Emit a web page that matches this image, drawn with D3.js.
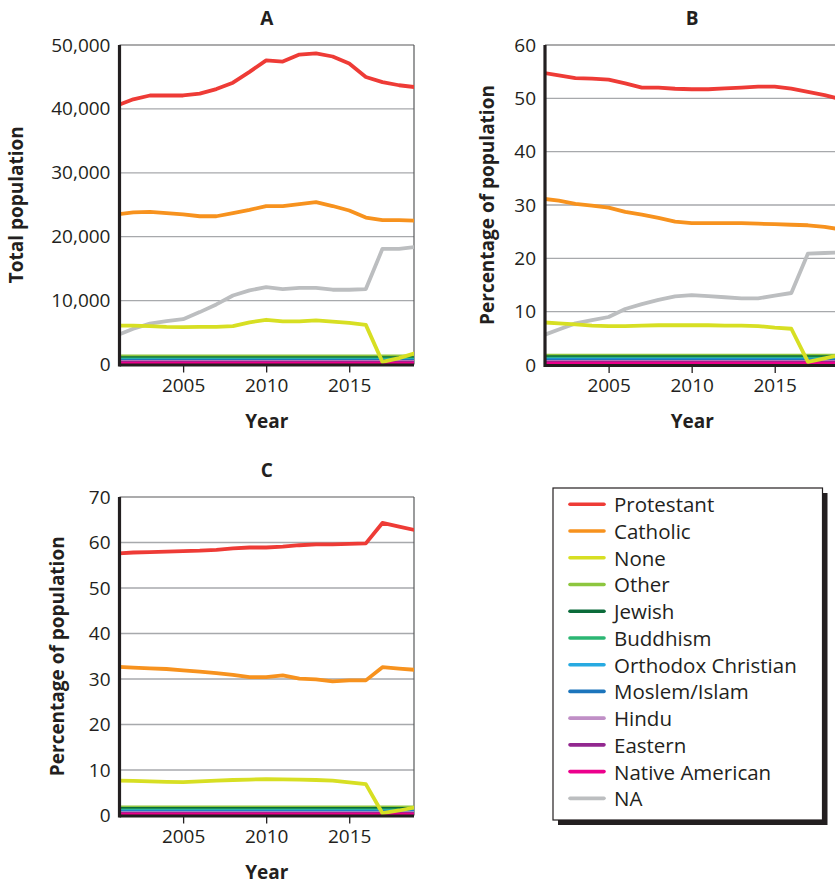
<!DOCTYPE html>
<html><head><meta charset="utf-8">
<script src="https://cdn.jsdelivr.net/npm/d3@7"></script>
<style>
body{margin:0;background:#fff;}
svg text{font-family:'Open Sans',sans-serif;fill:#231f20;}
</style>
</head><body>
<svg id="chart" width="835" height="883"></svg>
<script>
// ---------- DATA ----------
const years = [2001,2002,2003,2004,2005,2006,2007,2008,2009,2010,2011,2012,2013,2014,2015,2016,2017,2018,2019];
const religions = ["Protestant","Catholic","None","Other","Jewish","Buddhism","Orthodox Christian","Moslem/Islam","Hindu","Eastern","Native American","NA"];
const religionColors = ["#ee3b36","#f7921e","#d7df23","#8dc63f","#0b6b3a","#2bb673","#27aae1","#1c75bc","#c08fc6","#92278f","#ec008c","#bcbec0"];
const xTicks = [2005,2010,2015];

// Panel A: total population
const aProtestant = [40500,41500,42100,42100,42100,42400,43100,44100,45800,47600,47400,48500,48700,48200,47100,45000,44200,43700,43400];
const aCatholic   = [23500,23800,23900,23700,23500,23200,23200,23700,24200,24800,24800,25100,25400,24800,24100,23000,22600,22600,22500];
const aNone       = [6070,6070,6000,5900,5860,5880,5900,6000,6600,7000,6750,6750,6900,6700,6500,6200,400,1000,1800];
const aOther      = [1250,1250,1250,1250,1250,1250,1250,1250,1250,1250,1250,1250,1250,1250,1250,1250,1250,1250,1250];
const aJewish     = [1000,1000,1000,1000,1000,1000,1000,1000,1000,1000,1000,1000,1000,1000,1000,1000,1000,1000,1000];
const aBuddhism   = [800,800,800,800,800,800,800,800,800,800,800,800,800,800,800,800,800,800,800];
const aOrthodox   = [650,650,650,650,650,650,650,650,650,650,650,650,650,650,650,650,650,650,650];
const aMoslem     = [550,550,550,550,550,550,550,550,550,550,550,550,550,550,550,550,550,550,550];
const aHindu      = [400,400,400,400,400,400,400,400,400,400,400,400,400,400,400,400,400,400,400];
const aEastern    = [300,300,300,300,300,300,300,300,300,300,300,300,300,300,300,300,300,300,300];
const aNative     = [150,150,150,150,150,150,150,150,150,150,150,150,150,150,150,150,150,150,150];
const aNA         = [4550,5600,6400,6800,7100,8200,9400,10800,11600,12100,11800,12000,12000,11700,11700,11800,18100,18100,18400];
const aTicks = [0,10000,20000,30000,40000,50000];

// Panel B: percentage of population
const bProtestant = [54.8,54.3,53.8,53.7,53.5,52.8,52.0,52.0,51.8,51.7,51.7,51.85,52.0,52.2,52.2,51.8,51.2,50.6,49.8];
const bCatholic   = [31.2,30.8,30.2,29.9,29.5,28.7,28.2,27.6,26.9,26.6,26.6,26.6,26.6,26.5,26.4,26.3,26.2,25.9,25.4];
const bNone       = [8.0,7.8,7.6,7.4,7.3,7.3,7.4,7.45,7.45,7.45,7.45,7.4,7.4,7.3,7.0,6.8,0.6,1.25,1.9];
const bOther      = [1.75,1.75,1.75,1.75,1.75,1.75,1.75,1.75,1.75,1.75,1.75,1.75,1.75,1.75,1.75,1.75,1.75,1.75,1.75];
const bJewish     = [1.45,1.45,1.45,1.45,1.45,1.45,1.45,1.45,1.45,1.45,1.45,1.45,1.45,1.45,1.45,1.45,1.45,1.45,1.45];
const bBuddhism   = [1.2,1.2,1.2,1.2,1.2,1.2,1.2,1.2,1.2,1.2,1.2,1.2,1.2,1.2,1.2,1.2,1.2,1.2,1.2];
const bOrthodox   = [1.0,1.0,1.0,1.0,1.0,1.0,1.0,1.0,1.0,1.0,1.0,1.0,1.0,1.0,1.0,1.0,1.0,1.0,1.0];
const bMoslem     = [0.85,0.85,0.85,0.85,0.85,0.85,0.85,0.85,0.85,0.85,0.85,0.85,0.85,0.85,0.85,0.85,0.85,0.85,0.85];
const bHindu      = [0.6,0.6,0.6,0.6,0.6,0.6,0.6,0.6,0.6,0.6,0.6,0.6,0.6,0.6,0.6,0.6,0.6,0.6,0.6];
const bEastern    = [0.45,0.45,0.45,0.45,0.45,0.45,0.45,0.45,0.45,0.45,0.45,0.45,0.45,0.45,0.45,0.45,0.45,0.45,0.45];
const bNative     = [0.25,0.25,0.25,0.25,0.25,0.25,0.25,0.25,0.25,0.25,0.25,0.25,0.25,0.25,0.25,0.25,0.25,0.25,0.25];
const bNA         = [5.5,6.65,7.8,8.4,9.0,10.5,11.4,12.2,12.85,13.1,12.9,12.7,12.5,12.5,13.0,13.5,20.9,21.0,21.1];
const bTicks = [0,10,20,30,40,50,60];

// Panel C: percentage of population (NA excluded)
const cProtestant = [57.6,57.8,57.9,58.0,58.1,58.2,58.4,58.7,58.9,58.9,59.1,59.4,59.6,59.6,59.7,59.8,64.3,63.5,62.7];
const cCatholic   = [32.7,32.5,32.35,32.2,31.9,31.6,31.3,30.9,30.4,30.4,30.8,30.1,29.9,29.5,29.7,29.7,32.6,32.3,32.0];
const cNone       = [7.65,7.6,7.5,7.4,7.35,7.5,7.65,7.8,7.9,8.0,7.95,7.9,7.8,7.65,7.3,6.9,0.5,1.1,1.8];
const cOther      = [1.8,1.8,1.8,1.8,1.8,1.8,1.8,1.8,1.8,1.8,1.8,1.8,1.8,1.8,1.8,1.8,1.8,1.8,1.8];
const cJewish     = [1.45,1.45,1.45,1.45,1.45,1.45,1.45,1.45,1.45,1.45,1.45,1.45,1.45,1.45,1.45,1.45,1.45,1.45,1.45];
const cBuddhism   = [1.1,1.1,1.1,1.1,1.1,1.1,1.1,1.1,1.1,1.1,1.1,1.1,1.1,1.1,1.1,1.1,1.1,1.1,1.1];
const cOrthodox   = [0.9,0.9,0.9,0.9,0.9,0.9,0.9,0.9,0.9,0.9,0.9,0.9,0.9,0.9,0.9,0.9,0.9,0.9,0.9];
const cMoslem     = [0.75,0.75,0.75,0.75,0.75,0.75,0.75,0.75,0.75,0.75,0.75,0.75,0.75,0.75,0.75,0.75,0.75,0.75,0.75];
const cHindu      = [0.5,0.5,0.5,0.5,0.5,0.5,0.5,0.5,0.5,0.5,0.5,0.5,0.5,0.5,0.5,0.5,0.5,0.5,0.5];
const cEastern    = [0.35,0.35,0.35,0.35,0.35,0.35,0.35,0.35,0.35,0.35,0.35,0.35,0.35,0.35,0.35,0.35,0.35,0.35,0.35];
const cNative     = [0.2,0.2,0.2,0.2,0.2,0.2,0.2,0.2,0.2,0.2,0.2,0.2,0.2,0.2,0.2,0.2,0.2,0.2,0.2];
const cTicks = [0,10,20,30,40,50,60,70];

// ---------- LAYOUT ----------
const panels = [
  {title:"A", yLabel:"Total population", ticks:aTicks, fmt:d3.format(","),
   left:119.5, right:414, top:45, bottom:364.5, labelX:16,
   series:[aProtestant,aCatholic,aNone,aOther,aJewish,aBuddhism,aOrthodox,aMoslem,aHindu,aEastern,aNative,aNA]},
  {title:"B", yLabel:"Percentage of population", ticks:bTicks, fmt:d3.format("d"),
   left:545, right:839.5, top:45, bottom:365, labelX:487,
   series:[bProtestant,bCatholic,bNone,bOther,bJewish,bBuddhism,bOrthodox,bMoslem,bHindu,bEastern,bNative,bNA]},
  {title:"C", yLabel:"Percentage of population", ticks:cTicks, fmt:d3.format("d"),
   left:119.5, right:414, top:497, bottom:815.5, labelX:57,
   series:[cProtestant,cCatholic,cNone,cOther,cJewish,cBuddhism,cOrthodox,cMoslem,cHindu,cEastern,cNative,null]}
];
// small series first, then the main ones on top
const drawOrder = [3,4,5,6,7,8,9,10,11,1,0,2];

const svg = d3.select("#chart");
const ink = "#231f20";

panels.forEach((p, pi) => {
  const x = d3.scaleLinear().domain([2001.17, 2018.9]).range([p.left, p.right]);
  const y = d3.scaleLinear().domain([0, d3.max(p.ticks)]).range([p.bottom, p.top]);
  const g = svg.append("g");
  const cx = (p.left + p.right) / 2;

  const clipId = "clip" + pi;
  svg.append("clipPath").attr("id", clipId).append("rect")
    .attr("x", p.left).attr("y", p.top - 5).attr("width", p.right - p.left).attr("height", p.bottom - p.top + 5);

  // gridlines
  g.append("g").selectAll("line").data(p.ticks.slice(1, -1)).join("line")
    .attr("x1", p.left).attr("x2", p.right)
    .attr("y1", d => y(d)).attr("y2", d => y(d))
    .attr("stroke", "#a7a9ac").attr("stroke-width", 1.3);

  // frame top & right
  g.append("line").attr("x1", p.left).attr("x2", p.right).attr("y1", p.top).attr("y2", p.top)
    .attr("stroke", "#58595b").attr("stroke-width", 1.2);
  g.append("line").attr("x1", p.right).attr("x2", p.right).attr("y1", p.top).attr("y2", p.bottom)
    .attr("stroke", "#58595b").attr("stroke-width", 1.2);

  // lines
  const line = d3.line().x((d, i) => x(years[i])).y(d => y(d));
  const lg = g.append("g").attr("clip-path", `url(#${clipId})`);
  drawOrder.forEach(si => {
    const s = p.series[si];
    if (!s) return;
    lg.append("path").datum(s).attr("d", line)
      .attr("fill", "none").attr("stroke", religionColors[si])
      .attr("stroke-width", 3.8).attr("stroke-linejoin", "round");
  });

  // x axis
  const xAxis = g.append("g").attr("transform", `translate(0,${p.bottom})`)
    .call(d3.axisBottom(x).tickValues(xTicks).tickSize(8).tickPadding(6).tickFormat(d3.format("d")));
  xAxis.select(".domain").remove();
  xAxis.selectAll(".tick line").attr("stroke", ink).attr("stroke-width", 1.3).attr("y1", 1);
  xAxis.selectAll(".tick text").attr("font-size", 19).attr("fill", ink).attr("font-family", "'Open Sans',sans-serif").attr("dy", "0.71em").attr("y", 14);

  // y axis labels
  const yAxis = g.append("g").attr("transform", `translate(${p.left},0)`)
    .call(d3.axisLeft(y).tickValues(p.ticks).tickSize(0).tickPadding(9).tickFormat(p.fmt));
  yAxis.select(".domain").remove();
  yAxis.selectAll(".tick text").attr("font-size", 19).attr("fill", ink).attr("font-family", "'Open Sans',sans-serif");

  // thick axes
  g.append("line").attr("x1", p.left).attr("x2", p.right).attr("y1", p.bottom + 0.5).attr("y2", p.bottom + 0.5)
    .attr("stroke", ink).attr("stroke-width", 3.2);
  g.append("line").attr("x1", p.left).attr("x2", p.left).attr("y1", p.top).attr("y2", p.bottom + 2)
    .attr("stroke", ink).attr("stroke-width", 3.2);

  // titles
  g.append("text").attr("x", cx).attr("y", p.top - 27).attr("text-anchor", "middle")
    .attr("font-size", 19).attr("font-weight", "bold").attr("dominant-baseline", "central").text(p.title);
  g.append("text").attr("x", cx).attr("y", p.bottom + 56).attr("text-anchor", "middle")
    .attr("font-size", 19).attr("font-weight", "bold").attr("dominant-baseline", "central").text("Year");
  g.append("text").attr("transform", `translate(${p.labelX},${(p.top + p.bottom) / 2}) rotate(-90)`)
    .attr("text-anchor", "middle").attr("dominant-baseline", "central")
    .attr("font-size", 19).attr("font-weight", "bold").text(p.yLabel);
});

// ---------- LEGEND ----------
const lgX = 553, lgY = 488, lgW = 269.5, lgH = 332;
svg.append("rect").attr("x", lgX + 5).attr("y", lgY + 5).attr("width", lgW).attr("height", lgH).attr("fill", ink);
svg.append("rect").attr("x", lgX).attr("y", lgY).attr("width", lgW).attr("height", lgH)
  .attr("fill", "#fff").attr("stroke", ink).attr("stroke-width", 1.2);
const items = svg.append("g").selectAll("g").data(religions).join("g")
  .attr("transform", (d, i) => `translate(0,${504.3 + i * 26.73})`);
items.append("line").attr("x1", 570).attr("x2", 604).attr("y1", 0).attr("y2", 0)
  .attr("stroke", (d, i) => religionColors[i]).attr("stroke-width", 3.6).attr("stroke-linecap", "round");
items.append("text").attr("x", 614).attr("y", 0).attr("dominant-baseline", "central")
  .attr("font-size", 20.5).text(d => d);
</script>
</body></html>
